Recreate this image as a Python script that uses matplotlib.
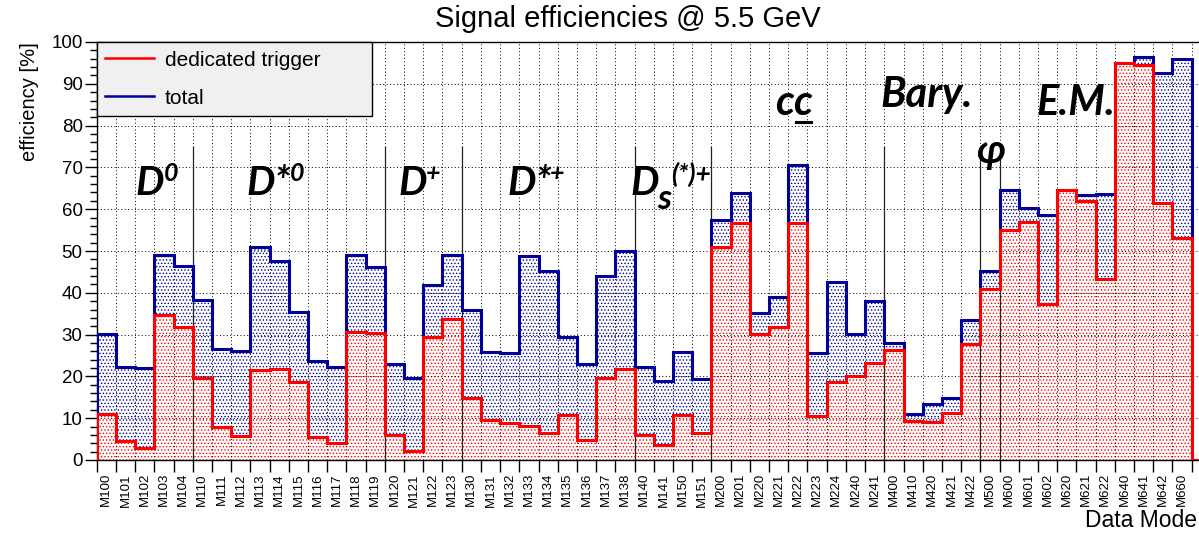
import numpy as np
import matplotlib
matplotlib.use("Agg")
import matplotlib.pyplot as plt
from matplotlib.lines import Line2D
from matplotlib.ticker import MultipleLocator
from matplotlib.transforms import IdentityTransform

# ---------------------------------------------------------------- data
modes = ["M100", "M101", "M102", "M103", "M104",
         "M110", "M111", "M112", "M113", "M114", "M115", "M116", "M117", "M118", "M119",
         "M120", "M121", "M122", "M123",
         "M130", "M131", "M132", "M133", "M134", "M135", "M136", "M137", "M138",
         "M140", "M141", "M150", "M151",
         "M200", "M201", "M220", "M221", "M222", "M223", "M224", "M240", "M241",
         "M400", "M410", "M420", "M421", "M422",
         "M500",
         "M600", "M601", "M602", "M620", "M621", "M622", "M640", "M641", "M642", "M660"]

total = [30.1, 22.2, 21.9, 49.0, 46.3,
         38.3, 26.6, 26.0, 50.9, 47.5, 35.5, 23.6, 22.3, 49.0, 46.1,
         23.0, 19.5, 41.9, 49.0,
         35.9, 25.8, 25.5, 48.8, 45.3, 29.5, 22.9, 44.1, 50.0,
         22.3, 18.9, 25.8, 19.3,
         57.3, 63.8, 35.2, 39.0, 70.6, 25.7, 42.7, 30.1, 38.0,
         27.9, 10.9, 13.4, 14.8, 33.4,
         45.2,
         64.5, 60.4, 58.6, 64.7, 63.4, 63.6, 94.9, 96.3, 92.5, 95.9]

dedicated = [11.0, 4.6, 2.8, 34.7, 31.9,
             19.5, 8.0, 5.8, 21.5, 21.8, 18.7, 5.4, 4.0, 30.6, 30.4,
             6.1, 2.2, 29.5, 33.7,
             14.8, 9.6, 8.8, 8.2, 6.5, 10.8, 4.8, 19.5, 21.8,
             5.9, 3.5, 10.8, 6.4,
             50.9, 56.8, 30.1, 31.9, 56.8, 10.6, 18.7, 20.2, 23.1,
             26.3, 9.4, 9.1, 11.3, 27.7,
             41.0,
             55.0, 57.0, 37.3, 64.7, 62.0, 43.4, 94.9, 94.4, 61.4, 53.2]

# channel-group boundaries (bin edge index) and how high the divider reaches
group_edges = [5, 15, 19, 28, 32, 41, 46, 47]
group_tops = [75, 75, 75, 75, 75, 75, 71.5, 71.5]

series_labels = ["dedicated trigger", "total"]

# ---------------------------------------------------------------- style
RED = "#ff0000"
BLUE = "#000099"
LABEL_FONT = ["Lato", "Open Sans", "DejaVu Sans"]

plt.rcParams["font.family"] = ["Liberation Sans", "DejaVu Sans"]
plt.rcParams["hatch.linewidth"] = 0.6

W, H = 1199, 533
fig = plt.figure(figsize=(W / 100, H / 100), dpi=100)

x0_px, bin_px = 96.7, 19.21
n_axis_bins = len(modes) + 1          # one empty trailing bin
ax = fig.add_axes([x0_px / W, (H - 460) / H, n_axis_bins * bin_px / W, (460 - 42) / H])

edges = np.arange(n_axis_bins + 1)
tot = np.append(total, 0.0)
ded = np.append(dedicated, 0.0)

# dotted fills
ax.stairs(tot, edges, fill=True, facecolor="white", edgecolor=BLUE,
          hatch=".....", linewidth=0, zorder=1)
ax.stairs(ded, edges, fill=True, facecolor="white", edgecolor=RED,
          hatch=".....", linewidth=0, zorder=1.5)
# outlines
ax.stairs(tot, edges, color=BLUE, linewidth=2.2, baseline=0, zorder=3)
ax.stairs(ded, edges, color=RED, linewidth=2.2, baseline=0, zorder=4)

# group dividers
for e, top in zip(group_edges, group_tops):
    ax.plot([e, e], [0, top], color="#222222", linewidth=0.9, zorder=2.6)

ax.set_xlim(0, n_axis_bins)
ax.set_ylim(0, 100)

centers = np.arange(len(modes)) + 0.5
ax.set_xticks(centers)
ax.set_xticklabels(modes)
ax.set_xticks(edges, minor=True)
ax.tick_params(axis="x", which="major", length=0, pad=9.4, labelsize=9.5,
               labelrotation=90)
ax.tick_params(axis="x", which="minor", length=8.5, width=1.0, direction="out")

ax.set_yticks(np.arange(0, 101, 10))
ax.yaxis.set_minor_locator(MultipleLocator(2))
ax.tick_params(axis="y", which="major", length=8.6, width=1.0, direction="out",
               pad=1.5, labelsize=13.5)
ax.tick_params(axis="y", which="minor", length=5, width=1.0, direction="out")

ax.set_axisbelow(False)
grid_style = dict(color="black", linestyle=(0, (1, 2.5)), linewidth=0.7)
ax.grid(which="minor", axis="x", **grid_style)
ax.grid(which="major", axis="y", **grid_style)

for s in ax.spines.values():
    s.set_linewidth(1.0)

ax.set_ylabel("efficiency [%]", loc="top", fontsize=14.5, labelpad=9)
fig.text(1197 / W, (H - 527) / H, "Data Mode", ha="right", va="baseline",
         fontsize=16.5)

fig.text(628 / W, (H - 27) / H, "Signal efficiencies @ 5.5 GeV",
         ha="center", va="baseline", fontsize=21)

# legend
handles = [Line2D([], [], color=RED, linewidth=1.8),
           Line2D([], [], color=BLUE, linewidth=1.8)]
leg_w = (371.7 - x0_px) / (n_axis_bins * bin_px)
leg = ax.legend(handles, series_labels, loc="upper left",
                bbox_to_anchor=(0, 1, leg_w, 0), mode="expand", borderaxespad=0,
                fontsize=15, fancybox=False, edgecolor="black", facecolor="#f0f0f0",
                framealpha=1, handlelength=2.35, handletextpad=0.5,
                labelspacing=0.9, borderpad=0.42)
leg.get_frame().set_linewidth(1.0)
leg.set_zorder(10)

# ---------------------------------------------------------------- group labels
renderer = fig.canvas.get_renderer()


def label_parts(x, y, parts):
    """Write bold-italic pieces one after another; each piece is
    (text, size in pt, baseline rise in px, extra gap in px)."""
    x_disp, y_disp = ax.transData.transform((x, y))
    cursor = x_disp
    texts = []
    for s, size, rise, gap in parts:
        t = fig.text(cursor + gap, y_disp + rise, s, transform=IdentityTransform(),
                     fontsize=size, family=LABEL_FONT, weight="bold", style="italic",
                     ha="left", va="baseline", zorder=6)
        cursor = t.get_window_extent(renderer).x1
        texts.append(t)
    return texts


label_parts(2.0, 63.4, [("D", 29, 0, 0), ("0", 18, 14, 0)])
label_parts(7.8, 63.4, [("D*", 29, 0, 0), ("0", 18, 14, -1)])
label_parts(15.7, 63.4, [("D", 29, 0, 0), ("+", 18, 14, -1)])
label_parts(21.4, 63.4, [("D*", 29, 0, 0), ("+", 18, 14, -2)])
label_parts(27.8, 63.4, [("D", 29, 0, 0), ("s", 25, -14, -2), ("(*)+", 19, 12, 0)])
label_parts(40.8, 84.4, [("Bary.", 30, 0, 0)])
label_parts(48.9, 82.5, [("E.M.", 30, 0, 0)])
label_parts(45.8, 71.0, [("φ", 29, 0, 0)])
cc = label_parts(35.3, 82.5, [("c", 30, 0, 0), ("c", 30, 0, -1)])
bb = cc[1].get_window_extent(renderer)
base_y = ax.transData.transform((35.3, 82.5))[1]
fig.add_artist(Line2D([bb.x0 + 3, bb.x1 - 1], [base_y - 7, base_y - 7],
                      transform=IdentityTransform(), color="black", linewidth=2.2))

fig.savefig("out.png", dpi=100)
